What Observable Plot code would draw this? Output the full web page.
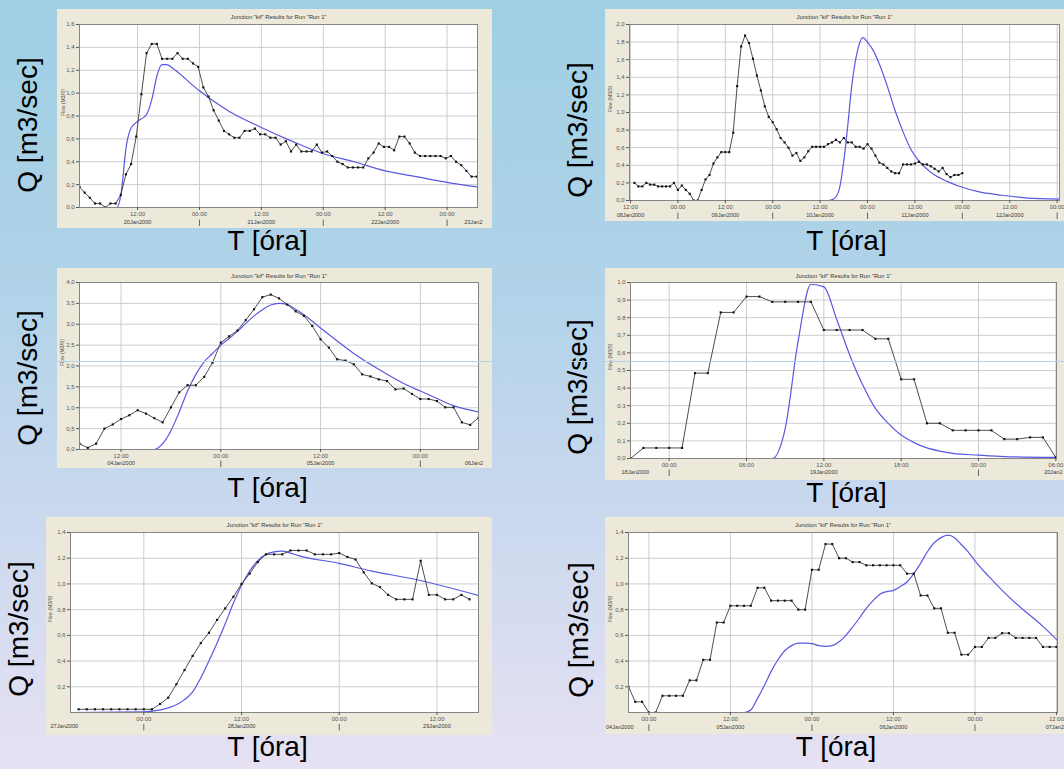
<!DOCTYPE html>
<html lang="hu">
<head>
<meta charset="utf-8">
<script src="https://cdn.jsdelivr.net/npm/d3@7"></script>
<script src="https://cdn.jsdelivr.net/npm/@observablehq/plot@0.6"></script>
<style>
  html, body { margin:0; padding:0; }
  body { width:1064px; height:769px; overflow:hidden; position:relative;
    background: linear-gradient(180deg, #9fcfe3 0%, #b2d3e9 40%, #c9d8ee 65%, #e6e1f3 100%);
    font-family: "Liberation Sans", Arial, sans-serif; }
  .panel { position:absolute; }
  .panel svg { display:block; overflow:hidden; }
  .qlab { position:absolute; font-size:28px; line-height:1; white-space:nowrap; color:#000;
    transform: translate(-50%,-50%) rotate(-90deg); }
  .tlab { position:absolute; font-size:28px; line-height:1; white-space:nowrap; color:#000;
    transform: translateX(-50%); }
  .streak { position:absolute; left:57px; right:0; top:361px; height:1px; background:#b0d4ee; }
</style>
</head>
<body>
<script>
// ---------- texts ----------
const chartTitle = 'Junction "kif" Results for Run "Run 1"';
const flowLabel = "Flow (M3/S)";
const qLabel = "Q [m3/sec]";
const tLabel = "T [óra]";

// ---------- panel 1 (top left) : hours from 20Jan2000 00:00 ----------
const p1Base = "2000-01-20T00:00Z";
const p1Domain = [0.75, 77.9];
const p1ObsStart = 0.75;
const p1Obs = [0.18,0.13,0.085,0.035,0.035,0.0,0.035,0.035,0.11,0.29,0.38,0.62,0.99,1.35,1.43,1.43,1.30,1.30,1.30,1.35,1.30,1.30,1.26,1.23,1.05,0.97,0.85,0.76,0.67,0.64,0.61,0.61,0.67,0.67,0.69,0.64,0.64,0.61,0.61,0.55,0.58,0.49,0.55,0.49,0.49,0.49,0.55,0.48,0.49,0.45,0.40,0.38,0.35,0.35,0.35,0.35,0.43,0.48,0.56,0.53,0.53,0.50,0.62,0.62,0.56,0.48,0.45,0.45,0.45,0.45,0.45,0.43,0.45,0.40,0.37,0.32,0.27,0.27];
const p1SimH = [0.75,8.0,8.8,9.8,10.7,12.2,13.7,14.8,15.75,16.7,17.7,19.0,24,29.8,36,41.9,48,54,60,66,72,77.9];
const p1SimQ = [0,0,0.12,0.53,0.69,0.76,0.81,0.95,1.15,1.25,1.25,1.21,1.02,0.84,0.70,0.58,0.47,0.40,0.32,0.27,0.22,0.18];
const p1Days = ["2000-01-20","2000-01-21","2000-01-22","2000-01-23"];
const p1DayLabels = ["20Jan2000","21Jan2000","22Jan2000","23Jan2"];

// ---------- panel 2 (top right) : hours from 08Jan2000 00:00 ----------
const p2Base = "2000-01-08T00:00Z";
const p2Domain = [11.75, 120.6];
const p2ObsStart = 13;
const p2Obs = [0.2,0.16,0.16,0.2,0.18,0.18,0.16,0.16,0.16,0.16,0.2,0.12,0.17,0.12,0.076,0,0,0.12,0.24,0.29,0.42,0.49,0.55,0.55,0.55,0.77,1.30,1.75,1.875,1.79,1.61,1.42,1.25,1.07,0.95,0.89,0.81,0.71,0.66,0.60,0.51,0.54,0.45,0.49,0.56,0.61,0.61,0.61,0.61,0.64,0.66,0.69,0.66,0.71,0.66,0.66,0.61,0.61,0.59,0.64,0.59,0.51,0.43,0.41,0.37,0.33,0.31,0.31,0.41,0.41,0.41,0.42,0.44,0.41,0.41,0.39,0.36,0.33,0.37,0.30,0.265,0.29,0.29,0.31];
const p2SimH = [11.75,62,63.5,64.8,66,67,68,68.8,69.8,70.8,72,73.5,75,77,79,81,83,85,88,92,96,100,106,112,120.6];
const p2SimQ = [0,0,0.02,0.12,0.45,0.85,1.30,1.55,1.76,1.85,1.80,1.70,1.55,1.30,1.02,0.78,0.58,0.45,0.32,0.22,0.15,0.10,0.06,0.03,0.015];
const p2Days = ["2000-01-08","2000-01-09","2000-01-10","2000-01-11","2000-01-12"];
const p2DayLabels = ["08Jan2000","09Jan2000","10Jan2000","11Jan2000","12Jan2000"];

// ---------- panel 3 (middle left) : hours from 04Jan2000 00:00 ----------
const p3Base = "2000-01-04T00:00Z";
const p3Domain = [7, 55];
const p3ObsStart = 7;
const p3Obs = [0.14,0.04,0.14,0.50,0.60,0.73,0.82,0.94,0.86,0.75,0.65,1.01,1.37,1.54,1.54,1.74,2.08,2.56,2.71,2.85,3.10,3.36,3.65,3.71,3.62,3.47,3.31,3.20,2.96,2.64,2.44,2.16,2.13,2.04,1.80,1.75,1.68,1.64,1.44,1.46,1.33,1.21,1.21,1.16,1.01,1.01,0.65,0.59,0.76];
const p3SimH = [7,16,17,18,19,20,21,22,23,24,25,26,27,28,29,30,31,32,33,34,36,38,40,42,44,46,48,50,52,55];
const p3SimQ = [0,0,0.14,0.45,0.90,1.40,1.80,2.10,2.30,2.50,2.66,2.83,3.02,3.20,3.35,3.46,3.50,3.47,3.36,3.23,2.91,2.60,2.30,2.04,1.80,1.58,1.40,1.22,1.05,0.90];
const p3Days = ["2000-01-04","2000-01-05","2000-01-06"];
const p3DayLabels = ["04Jan2000","05Jan2000","06Jan2"];

// ---------- panel 4 (middle right) : hours from 18Jan2000 00:00 ----------
const p4Base = "2000-01-18T00:00Z";
const p4Domain = [21, 54.05];
const p4ObsStart = 21;
const p4Obs = [0,0.06,0.06,0.06,0.06,0.485,0.485,0.83,0.83,0.92,0.92,0.89,0.89,0.89,0.89,0.73,0.73,0.73,0.73,0.68,0.68,0.45,0.45,0.20,0.20,0.16,0.16,0.16,0.16,0.11,0.11,0.12,0.12,0.005];
const p4SimH = [21,32,33,34,35,36,37,38,39,40,41,42,43,44,45,46,48,50,54.05];
const p4SimQ = [0,0,0.17,0.665,0.99,0.975,0.79,0.59,0.42,0.285,0.20,0.133,0.09,0.06,0.042,0.029,0.019,0.011,0.006];
const p4Days = ["2000-01-18","2000-01-19","2000-01-20"];
const p4DayLabels = ["18Jan2000","19Jan2000","20Jan2"];

// ---------- panel 5 (bottom left) : hours from 27Jan2000 00:00 ----------
const p5Base = "2000-01-27T00:00Z";
const p5Domain = [15, 65.1];
const p5ObsStart = 16;
const p5Obs = [0.025,0.025,0.025,0.025,0.025,0.025,0.025,0.025,0.025,0.025,0.066,0.115,0.22,0.33,0.44,0.54,0.62,0.72,0.81,0.90,1.00,1.08,1.17,1.23,1.23,1.23,1.26,1.26,1.26,1.23,1.23,1.23,1.24,1.21,1.19,1.09,1.005,0.975,0.915,0.88,0.88,0.88,1.18,0.915,0.915,0.88,0.88,0.915,0.88];
const p5SimH = [15,24,26,28,29,30,31,32,33,34,35,36,37,38,39,40,41,42,43,48,52,57,65.1];
const p5SimQ = [0,0.005,0.02,0.06,0.10,0.16,0.27,0.40,0.54,0.69,0.85,0.99,1.10,1.18,1.23,1.25,1.255,1.24,1.22,1.16,1.10,1.04,0.91];
const p5Days = ["2000-01-27","2000-01-28","2000-01-29"];
const p5DayLabels = ["27Jan2000","28Jan2000","29Jan2000"];

// ---------- panel 6 (bottom right) : hours from 04Jan2000 00:00 ----------
const p6Base = "2000-01-04T00:00Z";
const p6Domain = [21, 84.15];
const p6ObsStart = 21;
const p6Obs = [0.20,0.083,0.083,0,0,0.13,0.13,0.13,0.13,0.25,0.25,0.41,0.41,0.70,0.70,0.83,0.83,0.83,0.83,0.97,0.97,0.87,0.87,0.87,0.87,0.80,0.80,1.11,1.11,1.31,1.31,1.20,1.20,1.17,1.17,1.145,1.145,1.145,1.145,1.145,1.145,1.08,1.08,0.91,0.91,0.81,0.81,0.62,0.62,0.45,0.45,0.51,0.51,0.58,0.58,0.617,0.617,0.58,0.58,0.58,0.58,0.51,0.51,0.51];
const p6SimH = [21,38,39,40,41,42,43,44,45,46,47,48,49,50,51,52,53,54,55,56,57,58,59,60,61,62,63,64,65,66,67,68,69,70,71,72,74,76,78,80,82,84.15];
const p6SimQ = [0,0,0.02,0.11,0.21,0.32,0.41,0.48,0.52,0.54,0.54,0.535,0.52,0.515,0.52,0.55,0.60,0.665,0.735,0.81,0.87,0.92,0.94,0.95,0.98,1.015,1.08,1.16,1.25,1.32,1.36,1.38,1.36,1.305,1.25,1.18,1.06,0.95,0.85,0.76,0.67,0.56];
const p6Days = ["2000-01-04","2000-01-05","2000-01-06","2000-01-07"];
const p6DayLabels = ["04Jan2000","05Jan2000","06Jan2000","07Jan2"];

// ---------- assemble ----------
const panels = [
  {base:p1Base, domain:p1Domain, obsStart:p1ObsStart, obs:p1Obs, simH:p1SimH, simQ:p1SimQ, days:p1Days, dayLabels:p1DayLabels, yMax:1.6, yStep:0.2, tickHours:12, hideZero:false},
  {base:p2Base, domain:p2Domain, obsStart:p2ObsStart, obs:p2Obs, simH:p2SimH, simQ:p2SimQ, days:p2Days, dayLabels:p2DayLabels, yMax:2.0, yStep:0.2, tickHours:12, hideZero:false},
  {base:p3Base, domain:p3Domain, obsStart:p3ObsStart, obs:p3Obs, simH:p3SimH, simQ:p3SimQ, days:p3Days, dayLabels:p3DayLabels, yMax:4.0, yStep:0.5, tickHours:12, hideZero:false},
  {base:p4Base, domain:p4Domain, obsStart:p4ObsStart, obs:p4Obs, simH:p4SimH, simQ:p4SimQ, days:p4Days, dayLabels:p4DayLabels, yMax:1.0, yStep:0.1, tickHours:6, hideZero:false},
  {base:p5Base, domain:p5Domain, obsStart:p5ObsStart, obs:p5Obs, simH:p5SimH, simQ:p5SimQ, days:p5Days, dayLabels:p5DayLabels, yMax:1.4, yStep:0.2, tickHours:12, hideZero:true},
  {base:p6Base, domain:p6Domain, obsStart:p6ObsStart, obs:p6Obs, simH:p6SimH, simQ:p6SimQ, days:p6Days, dayLabels:p6DayLabels, yMax:1.4, yStep:0.2, tickHours:12, hideZero:true}
];

const layouts = [
  {left:57,  top:9,   w:435, h:219, ml:22, mr:15, mt:15, mb:21, dateDy:16,   leftDx:0,     rightDx:5,   flowDx:-16.5, q:[28,124.5],   t:[267.5,226.7]},
  {left:605, top:9,   w:459, h:212, ml:24, mr:5,  mt:15, mb:21, dateDy:16,   leftDx:0,     rightDx:5,   flowDx:-19.5, q:[577.6,129.5], t:[846.5,226.7]},
  {left:57,  top:268, w:435, h:200, ml:22, mr:14, mt:14, mb:19, dateDy:15,   leftDx:0,     rightDx:4.5, flowDx:-17.5, q:[28,378],     t:[267.5,474.4]},
  {left:605, top:268, w:459, h:212, ml:25, mr:8,  mt:14, mb:22, dateDy:15,   leftDx:-9,    rightDx:6,   flowDx:-20,   q:[577.6,386.7], t:[846.5,479.4]},
  {left:46,  top:517, w:446, h:218, ml:24, mr:14, mt:15, mb:23, dateDy:15.5, leftDx:-20,   rightDx:5,   flowDx:-20,   q:[18.6,629],    t:[267.5,733.4]},
  {left:605, top:517, w:459, h:217, ml:23, mr:7,  mt:15, mb:22, dateDy:16,   leftDx:-22.5, rightDx:6.5, flowDx:-18.3, q:[578.6,630],   t:[836,733.4]}
];

const HOUR = 3600e3;
const fmtY = d => d.toFixed(1).replace(".", ",");
const fmtX = d3.utcFormat("%H:%M");
const FONT = '"Liberation Sans", Arial, sans-serif';
const TXT = "#3a3a3a";

function makePanel(p, L) {
  const base = +new Date(p.base);
  const at = h => new Date(base + h * HOUR);
  const x0 = at(p.domain[0]), x1 = at(p.domain[1]);
  const obs = p.obs.map((q, i) => ({t: at(p.obsStart + i), q}));
  const sim = p.simH.map((h, i) => ({t: at(h), q: p.simQ[i]}));
  const xTicks = d3.utcHour.every(p.tickHours).range(x0, new Date(+x1 + 1));
  const n = Math.round(p.yMax / p.yStep);
  const yTicks = d3.range(0, n + 1).map(i => +(i * p.yStep).toFixed(3));
  const yLabelTicks = p.hideZero ? yTicks.filter(v => v > 0) : yTicks;
  const midnights = d3.utcDay.range(x0, new Date(+x1 + 1));
  const days = p.days.map((d, i) => ({noon: new Date(d + "T12:00:00Z"), label: p.dayLabels[i]}));
  const edge = HOUR; // a noon label closer than this to the right border sits on the border
  const inside = days.filter(d => d.noon >= x0 && d.noon <= +x1 - edge);
  const before = days.filter(d => d.noon < x0);
  const after = days.filter(d => d.noon > +x1 - edge);

  // vertical pixel offsets below the frame, converted to y units for the day separators
  const ph = L.h - L.mt - L.mb;
  const below = px => -px / ph * p.yMax;

  const svg = Plot.plot({
    width: L.w, height: L.h,
    marginLeft: L.ml, marginRight: L.mr, marginTop: L.mt, marginBottom: L.mb,
    style: {background: "#ece9da", fontFamily: FONT, fontSize: "6px", color: TXT, overflow: "hidden"},
    x: {type: "utc", domain: [x0, x1], axis: null},
    y: {type: "linear", domain: [0, p.yMax], axis: null},
    marks: [
      Plot.frame({fill: "#ffffff", stroke: null}),
      Plot.gridY(yTicks, {stroke: "#cdcdcd", strokeOpacity: 1}),
      Plot.gridX(xTicks, {stroke: "#cdcdcd", strokeOpacity: 1}),
      Plot.line(sim, {x: "t", y: "q", stroke: "#5959e2", strokeWidth: 1.2, curve: "monotone-x", clip: true}),
      Plot.line(obs, {x: "t", y: "q", stroke: "#3a3a3a", strokeWidth: 0.9, clip: true}),
      Plot.dot(obs, {x: "t", y: "q", symbol: "square", r: 1.2, fill: "#111", stroke: null, clip: true}),
      Plot.frame({stroke: "#858585", strokeWidth: 1}),
      Plot.axisY(yLabelTicks, {tickSize: 3, tickPadding: 2, tickFormat: fmtY, label: null, color: "#555", fontSize: 6}),
      Plot.axisX(xTicks, {tickSize: 3, tickPadding: 1.5, tickFormat: fmtX, label: null, color: "#555", fontSize: 6}),
      Plot.text(inside, {x: "noon", text: "label", frameAnchor: "bottom", dy: L.dateDy, fontSize: 5.6, fill: TXT}),
      Plot.text(before, {x: () => x0, text: "label", frameAnchor: "bottom", textAnchor: "start", dx: L.leftDx, dy: L.dateDy, fontSize: 5.6, fill: TXT}),
      Plot.text(after, {x: () => x1, text: "label", frameAnchor: "bottom", textAnchor: "end", dx: L.rightDx, dy: L.dateDy, fontSize: 5.6, fill: TXT}),
      Plot.ruleX(midnights, {x: d => d, y1: below(L.dateDy - 3.5), y2: below(L.dateDy + 3), stroke: "#666", strokeWidth: 1}),
      Plot.text([chartTitle], {text: d => d, frameAnchor: "top", dy: -(L.mt - 5), fontSize: 5.8, fill: "#333"}),
      Plot.text([flowLabel], {text: d => d, frameAnchor: "left", rotate: -90, dx: L.flowDx, fontSize: 5, fill: "#444"})
    ]
  });

  const div = document.createElement("div");
  div.className = "panel";
  div.style.left = L.left + "px";
  div.style.top = L.top + "px";
  div.style.width = L.w + "px";
  div.style.height = L.h + "px";
  div.appendChild(svg);
  document.body.appendChild(div);

  const q = document.createElement("div");
  q.className = "qlab";
  q.textContent = qLabel;
  q.style.left = L.q[0] + "px";
  q.style.top = L.q[1] + "px";
  document.body.appendChild(q);

  const t = document.createElement("div");
  t.className = "tlab";
  t.textContent = tLabel;
  t.style.left = L.t[0] + "px";
  t.style.top = L.t[1] + "px";
  document.body.appendChild(t);
}

panels.forEach((p, i) => makePanel(p, layouts[i]));

const streak = document.createElement("div");
streak.className = "streak";
document.body.appendChild(streak);
</script>
</body>
</html>
